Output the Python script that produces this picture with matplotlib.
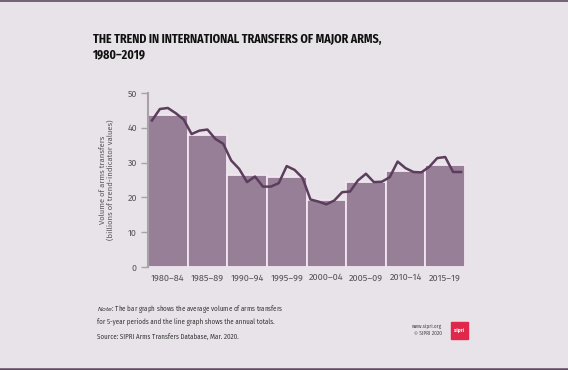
import matplotlib
matplotlib.use('Agg')
from matplotlib import pyplot as plt
from matplotlib.patches import Rectangle

plt.rcParams['font.family'] = ['Fira Sans', 'DejaVu Sans']

# 5-year period averages (billions of TIV)
periods = ['1980–84', '1985–89', '1990–94', '1995–99',
           '2000–04', '2005–09', '2010–14', '2015–19']
period_avg = [43.8, 37.8, 26.4, 25.8, 19.3, 24.3, 27.7, 29.2]

# annual totals 1980-2019
years = list(range(1980, 2020))
annual = [42.1, 45.4, 45.7, 44.2, 42.4,
          38.2, 39.2, 39.5, 36.8, 35.4,
          30.6, 28.2, 24.4, 26.0, 23.1,
          23.1, 24.1, 29.0, 27.9, 25.6,
          19.4, 18.8, 18.0, 19.1, 21.5,
          21.7, 24.9, 26.8, 24.4, 24.5,
          25.8, 30.3, 28.4, 27.3, 27.2,
          28.8, 31.3, 31.6, 27.3, 27.3]

bg = '#e8e3e8'
bar_col = '#977f97'
line_col = '#5a3e5c'
grey = '#58545a'

fig = plt.figure(figsize=(5.68, 3.70), dpi=100, facecolor=bg)
ax = fig.add_axes([148 / 568, 1 - 267 / 370, 317 / 568, 174 / 370])
ax.set_facecolor(bg)

# bars, one per period
xs = [k + 0.5 for k in range(len(periods))]
ax.bar(xs, period_avg, width=1.0, color=bar_col, edgecolor='#f3e6f3', linewidth=1.3, zorder=2)

# annual line, each year at the middle of its fifth of the bar
lx = [(y - years[0] + 0.5) / 5 for y in years]
ax.plot(lx, annual, color=line_col, linewidth=1.8, zorder=3)

ax.set_xlim(0, len(periods))
ax.set_ylim(0, 50)
ax.set_yticks([0, 10, 20, 30, 40, 50])
ax.set_xticks(xs)
ax.set_xticklabels(periods)

for s in ['top', 'right', 'bottom']:
    ax.spines[s].set_visible(False)
ax.spines['left'].set_color('#a8a2a8')
ax.spines['left'].set_linewidth(1.5)
ax.tick_params(axis='y', direction='out', length=5, width=1, color='#a8a2a8',
               labelsize=6.4, labelcolor=grey, pad=3)
ax.tick_params(axis='x', length=0, labelsize=6.6, labelcolor=grey, pad=4.5)

ax.set_ylabel('Volume of arms transfers\n(billions of trend-indicator values)',
              fontsize=5.5, color=grey, labelpad=9, linespacing=1.2)

# title
fig.text(93 / 568, 1 - 33 / 370, 'THE TREND IN INTERNATIONAL TRANSFERS OF MAJOR ARMS,\n1980–2019',
         fontsize=8.6, fontweight='bold', family=['Fira Sans Condensed', 'DejaVu Sans'], color='#111111',
         va='top', ha='left', linespacing=1.35)

# notes
fig.text(97 / 568, 1 - 314.5 / 370,
         r'$\it{Note}$: The bar graph shows the average volume of arms transfers' + '\n'
         'for 5-year periods and the line graph shows the annual totals.',
         fontsize=4.5, color='#333333', va='center', ha='left', linespacing=1.5)
fig.text(97 / 568, 1 - 336.5 / 370, 'Source: SIPRI Arms Transfers Database, Mar. 2020.',
         fontsize=4.5, color='#333333', va='center', ha='left')

fig.text(442 / 568, 1 - 330 / 370, 'www.sipri.org\n© SIPRI 2020', fontsize=3.5, color='#444444',
         va='center', ha='right', linespacing=1.3)
fig.patches.append(Rectangle((451 / 568, 1 - 339 / 370), 17 / 568, 17 / 370,
                             transform=fig.transFigure, color='#e0284a', zorder=5))
fig.text(459.5 / 568, 1 - 330.5 / 370, 'sipri', fontsize=3.6, color='white', fontweight='bold',
         va='center', ha='center', zorder=6)

# frame lines top and bottom
fig.add_artist(plt.Line2D([0, 1], [1 - 0.5 / 370, 1 - 0.5 / 370], color='#5e4a60', linewidth=1.2,
                          transform=fig.transFigure))
fig.add_artist(plt.Line2D([0, 1], [1 - 368.5 / 370, 1 - 368.5 / 370], color='#5e4a60', linewidth=1.8,
                          transform=fig.transFigure))

fig.savefig('out.png', dpi=100, facecolor=bg)
